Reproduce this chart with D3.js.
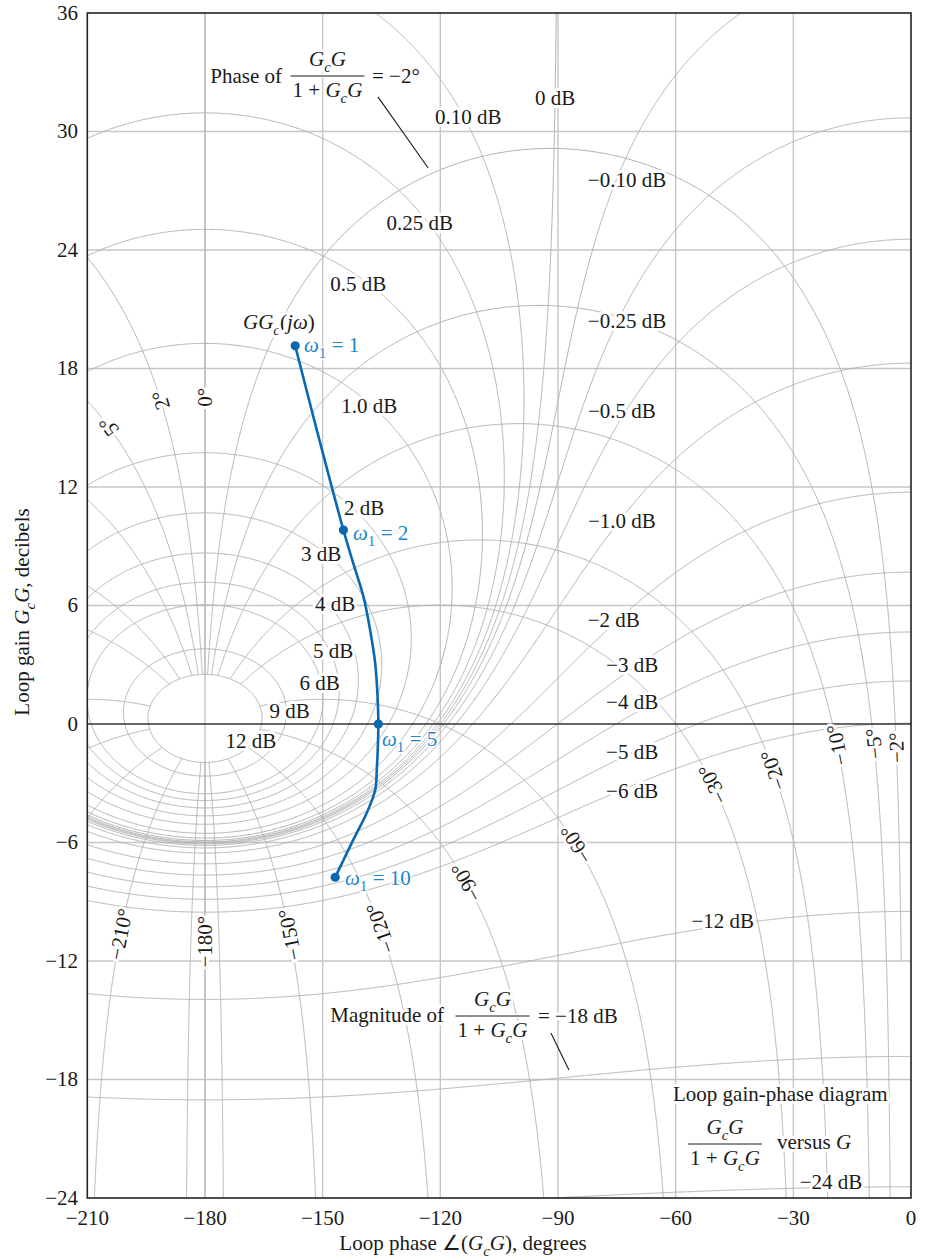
<!DOCTYPE html>
<html><head><meta charset="utf-8">
<script src="https://cdn.jsdelivr.net/npm/d3@7"></script>
<style>
body{margin:0;background:#fff;}
text{font-family:"Liberation Serif","Times New Roman",Times,serif;}
</style></head><body>
<svg id="chart" width="927" height="1260"></svg>
<script>
// ---------------- DATA ----------------
const xTicks = [-210, -180, -150, -120, -90, -60, -30, 0];
const yTicks = [36, 30, 24, 18, 12, 6, 0, -6, -12, -18, -24];

// closed-loop magnitude contours (dB)
const magContoursDb = [12, 9, 6, 5, 4, 3, 2, 1, 0.5, 0.25, 0.1, 0, -0.1, -0.25, -0.5, -1, -2, -3, -4, -5, -6, -12, -18, -24];
// closed-loop phase contours (deg); each also drawn mirrored about -180
const phaseContoursDeg = [-2, -5, -10, -20, -30, -60, -90, -120, -150, -175];

// labels of magnitude contours
const magLabelDb   = [0.1, 0, -0.1, 0.25, -0.25, 0.5, -0.5, 1, -1, 2, 3, -2, 4, -3, 5, -4, 6, 9, 12, -5, -6, -12, -24];
const magLabelText = ["0.10 dB","0 dB","\u22120.10 dB","0.25 dB","\u22120.25 dB","0.5 dB","\u22120.5 dB","1.0 dB","\u22121.0 dB","2 dB","3 dB","\u22122 dB","4 dB","\u22123 dB","5 dB","\u22124 dB","6 dB","9 dB","12 dB","\u22125 dB","\u22126 dB","\u221212 dB","\u221224 dB"];
const magLabelPhase = [-112.9, -90.75, -72.4, -125.25, -72.4, -140.9, -73.7, -138.1, -73.7, -139.4, -150.4, -75.8, -146.8, -71.1, -147.35, -71.1, -150.75, -158.4, -168.3, -71.1, -71.1, -48.0, -20.4];
const magLabelGain  = [30.75, 31.71, 27.54, 25.38, 20.41, 22.28, 15.85, 16.1, 10.29, 10.95, 8.61, 5.30, 6.08, 3.02, 3.70, 1.13, 2.11, 0.66, -0.86, -1.40, -3.37, -9.96, -23.17];

// labels of phase contours
const phaseLabelText    = ["\u22122\u00b0","\u22125\u00b0","\u221210\u00b0","\u221220\u00b0","\u221230\u00b0","\u221260\u00b0","\u221290\u00b0","\u2212120\u00b0","\u2212150\u00b0","\u2212180\u00b0","\u2212210\u00b0","0\u00b0","2\u00b0","5\u00b0"];
const phaseLabelContour = [-2, -5, -10, -20, -30, -60, -90, -120, -150, -180, -210, 0, -358, -355];
const phaseLabelPhase   = [-4.75, -11.7, -19.6, -36.5, -51.7, -85.3, -114.8, -134.5, -158.3, -180, -202.3, -180, -192.7, -202.9];
const phaseLabelGain    = [-1.2, -1.06, -1.1, -2.43, -3.17, -6.08, -8.15, -10.26, -10.68, -11.02, -10.6, 16.55, 16.32, 15.3];

// open-loop locus GGc(jw)
const locusPhase = [-157.0, -151.5, -147.7, -144.7, -142.2, -139.6, -137.9, -136.6, -136.0, -135.8, -136.2, -136.6, -138.8, -142.2, -144.7, -146.8];
const locusGain  = [19.15, 14.89, 12.02, 9.82, 8.14, 6.45, 4.76, 3.07, 1.38, 0.0, -2.33, -3.34, -4.52, -5.87, -6.89, -7.76];
const omegaValues = [1, 2, 5, 10];
const omegaPhase  = [-157.0, -144.7, -135.8, -146.8];
const omegaGain   = [19.15, 9.82, 0.0, -7.76];

// ---------------- SETUP ----------------
const svg = d3.select('#chart');
const x = d3.scaleLinear().domain([-210, 0]).range([87.3, 911]);
const y = d3.scaleLinear().domain([-24, 36]).range([1198, 13]);
const FS = 21;
const GRID = '#c6c6c6', CONT = '#b2b2b2', BLUE = '#0a67b2', BLUE_T = '#2086c9';
const D2R = Math.PI / 180;

svg.append('defs').append('clipPath').attr('id', 'clip').append('rect')
  .attr('x', x(-210)).attr('y', y(36)).attr('width', x(0) - x(-210)).attr('height', y(-24) - y(36));

// ---------------- CONTOUR MATH ----------------
function decimate(pts) {
  const out = [];
  let last = null;
  pts.forEach((p, i) => {
    const px = [x(p[0]), y(p[1])];
    if (!isFinite(px[0]) || !isFinite(px[1])) return;
    if (!last || Math.hypot(px[0] - last[0], px[1] - last[1]) > 0.7 || i === pts.length - 1) {
      out.push(px); last = px;
    }
  });
  return out;
}

function magContour(db) {
  const M = Math.pow(10, db / 20);
  const pts = [];
  if (Math.abs(M - 1) < 1e-9) {
    for (let ph = -269.95; ph <= -90.05; ph += 0.02) {
      const rho = -1 / (2 * Math.cos(ph * D2R));
      pts.push([ph, 20 * Math.log10(rho)]);
    }
    return pts;
  }
  const c = -M * M / (M * M - 1);
  const K = M * M / (M * M - 1);
  if (M < 1) {
    for (let ph = -215; ph <= 5; ph += 0.1) {
      const cp = Math.cos(ph * D2R);
      const rho = c * cp + Math.sqrt(c * c * cp * cp - K);
      pts.push([ph, 20 * Math.log10(rho)]);
    }
    return pts;
  }
  const Wd = Math.asin(1 / M) / D2R;
  const N = 1500;
  const branch = (sgn, t) => {
    const ph = -180 - Wd * Math.cos(t);
    const cp = Math.cos(ph * D2R);
    const D = Math.max(0, c * c * cp * cp - K);
    const rho = c * cp + sgn * Math.sqrt(D);
    return [ph, 20 * Math.log10(rho)];
  };
  for (let i = 0; i <= N; i++) pts.push(branch(1, Math.PI * i / N));
  for (let i = N; i >= 0; i--) pts.push(branch(-1, Math.PI * i / N));
  return pts;
}

const mMax = Math.pow(10, 12 / 20); // phase contours stop at the 12 dB ellipse
function phaseContour(Ndeg, minGain) {
  const pts = [];
  const uMax = Math.log(mMax);
  if (Ndeg === 0) {
    for (let u = 0.0005; u <= uMax; u += 0.0008) {
      const m = Math.exp(u);
      pts.push([-180, 20 * Math.log10(m / (m - 1))]);
    }
    return pts;
  }
  const cn = Math.cos(Ndeg * D2R), sn = Math.sin(Ndeg * D2R);
  for (let u = -7; u <= uMax + 1e-9; u += 0.0008) {
    const m = Math.exp(u);
    const re = 1 - m * cn, im = -m * sn;
    const ph = Ndeg - Math.atan2(im, re) / D2R;
    const g = 20 * Math.log10(m / Math.hypot(re, im));
    if (minGain !== undefined && g < minGain) continue;
    pts.push([ph, g]);
  }
  return pts;
}

// build all contours in pixel space
const contours = {};
magContoursDb.forEach(db => { contours['M' + db] = decimate(magContour(db)); });
phaseContoursDeg.forEach(N => {
  const raw = phaseContour(N, N === -2 ? -12 : undefined);
  contours['P' + N] = decimate(raw);
  contours['P' + (-360 - N)] = decimate(raw.map(p => [-360 - p[0], p[1]]));
});
contours['P-180'] = decimate(phaseContour(-180));
contours['P0'] = decimate(phaseContour(0));

// ---------------- GRID ----------------
const gGrid = svg.append('g').attr('clip-path', 'url(#clip)');
gGrid.selectAll('line.v').data(xTicks.filter(d => d > -210 && d < 0)).join('line')
  .attr('x1', d => x(d)).attr('x2', d => x(d)).attr('y1', y(36)).attr('y2', y(-24))
  .attr('stroke', GRID).attr('stroke-width', 1.4);
gGrid.selectAll('line.h').data(yTicks.filter(d => d < 36 && d > -24 && d !== 0)).join('line')
  .attr('x1', x(-210)).attr('x2', x(0)).attr('y1', d => y(d)).attr('y2', d => y(d))
  .attr('stroke', GRID).attr('stroke-width', 1.4);

const lineGen = d3.line().curve(d3.curveLinear);
gGrid.selectAll('path.c').data(Object.keys(contours)).join('path')
  .attr('d', k => lineGen(contours[k]))
  .attr('fill', 'none').attr('stroke', CONT).attr('stroke-width', 1.0);

// 0 dB axis line
gGrid.append('line').attr('x1', x(-210)).attr('x2', x(0)).attr('y1', y(0)).attr('y2', y(0))
  .attr('stroke', '#333').attr('stroke-width', 1.5);

// ---------------- TEXT HELPERS ----------------
function halo(sel) {
  return sel.attr('stroke', '#fff').attr('stroke-width', 6).attr('stroke-linejoin', 'round').attr('paint-order', 'stroke');
}
function richText(parent, xp, yp, parts, anchor, size, color) {
  const t = parent.append('text').attr('x', xp).attr('y', yp).attr('text-anchor', anchor)
    .attr('font-size', size).attr('fill', color || '#1a1a1a');
  let shift = 0;
  parts.forEach(([s, st]) => {
    const sp = t.append('tspan').text(s);
    if (st.includes('i')) sp.attr('font-style', 'italic');
    const sub = st.includes('s');
    const target = sub ? size * 0.3 : 0;
    if (target !== shift) { sp.attr('dy', target - shift); shift = target; }
    if (sub) sp.attr('font-size', size * 0.72);
  });
  return t;
}
function fraction(parent, cx, lineY, num, den, size) {
  const n = halo(richText(parent, cx, lineY - 10, num, 'middle', size));
  const d = halo(richText(parent, cx, lineY + 21, den, 'middle', size));
  const w = Math.max(n.node().getComputedTextLength(), d.node().getComputedTextLength());
  parent.append('rect').attr('x', cx - w / 2 - 4).attr('y', lineY - 2).attr('width', w + 8).attr('height', 4).attr('fill', '#fff');
  parent.append('line').attr('x1', cx - w / 2 - 2).attr('x2', cx + w / 2 + 2).attr('y1', lineY).attr('y2', lineY)
    .attr('stroke', '#1a1a1a').attr('stroke-width', 1.1);
}
function nearest(pts, px, py) {
  let best = 0, bd = Infinity;
  pts.forEach((p, i) => { const d = (p[0] - px) ** 2 + (p[1] - py) ** 2; if (d < bd) { bd = d; best = i; } });
  return { i: best, d: Math.sqrt(bd) };
}

// ---------------- CONTOUR LABELS ----------------
const gLab = svg.append('g');
magLabelText.forEach((txt, i) => {
  const px = x(magLabelPhase[i]), py = y(magLabelGain[i]);
  halo(gLab.append('text').attr('x', px).attr('y', py).attr('dy', '0.35em').attr('text-anchor', 'middle')
    .attr('font-size', FS).attr('fill', '#1a1a1a').text(txt));
});
phaseLabelText.forEach((txt, i) => {
  let px = x(phaseLabelPhase[i]), py = y(phaseLabelGain[i]);
  const pts = contours['P' + phaseLabelContour[i]];
  const nb = nearest(pts, px, py);
  const a = pts[Math.max(0, nb.i - 4)], b = pts[Math.min(pts.length - 1, nb.i + 4)];
  let ang = Math.atan2(b[1] - a[1], b[0] - a[0]) / D2R;
  if (Math.sin(ang * D2R) > 0) ang -= 180;           // tangent pointing upward
  if (ang > 0) ang -= 360;
  if (nb.d < 10) { px = pts[nb.i][0]; py = pts[nb.i][1]; }
  halo(gLab.append('text').attr('transform', `translate(${px},${py}) rotate(${ang})`)
    .attr('dy', '0.35em').attr('text-anchor', 'middle').attr('font-size', FS).attr('fill', '#1a1a1a').text(txt));
});

// ---------------- ANNOTATIONS ----------------
const gA = svg.append('g');
const GcG = [['G', 'i'], ['c', 'is'], ['G', 'i']];
const oneGcG = [['1 + ', ''], ['G', 'i'], ['c', 'is'], ['G', 'i']];
// Phase of ... = -2 deg
halo(richText(gA, 282, 83, [['Phase of', '']], 'end', FS));
fraction(gA, 327.5, 76, GcG, oneGcG, FS);
halo(richText(gA, 372, 83, [['= \u22122\u00b0', '']], 'start', FS));
gA.append('line').attr('x1', x(-135.9)).attr('y1', y(31.75)).attr('x2', x(-123.1)).attr('y2', y(28.15))
  .attr('stroke', '#1a1a1a').attr('stroke-width', 1.1);
// Magnitude of ... = -18 dB
halo(richText(gA, 444, 1022, [['Magnitude of', '']], 'end', FS));
fraction(gA, 492.5, 1016, GcG, oneGcG, FS);
halo(richText(gA, 538, 1023, [['= \u221218 dB', '']], 'start', FS));
gA.append('line').attr('x1', x(-91.8)).attr('y1', y(-15.65)).attr('x2', x(-87.2)).attr('y2', y(-17.52))
  .attr('stroke', '#1a1a1a').attr('stroke-width', 1.1);
// Loop gain-phase diagram
halo(richText(gA, 673, 1101, [['Loop gain-phase diagram', '']], 'start', FS));
fraction(gA, 725, 1144, GcG, oneGcG, FS);
halo(richText(gA, 777, 1149, [['versus ', ''], ['G', 'i']], 'start', FS));
// GGc(jw)
halo(richText(gA, 243, 329, [['GG', 'i'], ['c', 'is'], ['(', ''], ['j\u03c9', 'i'], [')', '']], 'start', FS));

// ---------------- LOCUS ----------------
const gL = svg.append('g');
const locus = locusPhase.map((p, i) => [x(p), y(locusGain[i])]);
gL.append('path').attr('d', d3.line().curve(d3.curveCatmullRom.alpha(0.5))(locus))
  .attr('fill', 'none').attr('stroke', BLUE).attr('stroke-width', 2.6);
gL.selectAll('circle').data(omegaValues).join('circle')
  .attr('cx', (d, i) => x(omegaPhase[i])).attr('cy', (d, i) => y(omegaGain[i])).attr('r', 4.6).attr('fill', BLUE);
const omegaLabelX = [304, 353, 382, 345];
const omegaLabelY = [352, 540, 746, 885];
omegaValues.forEach((w, i) => {
  halo(richText(gL, omegaLabelX[i], omegaLabelY[i], [['\u03c9', 'i'], ['1', 's'], [' = ' + w, '']], 'start', FS, BLUE_T))
    .attr('stroke-width', 3);
});

// ---------------- FRAME & AXES ----------------
svg.append('rect').attr('x', x(-210)).attr('y', y(36)).attr('width', x(0) - x(-210)).attr('height', y(-24) - y(36))
  .attr('fill', 'none').attr('stroke', '#222').attr('stroke-width', 1.6);
const fmt = v => (v < 0 ? '\u2212' + Math.abs(v) : '' + v);
svg.selectAll('text.yt').data(yTicks).join('text').attr('class', 'yt')
  .attr('x', 78).attr('y', d => y(d)).attr('dy', '0.33em').attr('text-anchor', 'end')
  .attr('font-size', FS).attr('fill', '#1a1a1a').text(fmt);
svg.selectAll('text.xt').data(xTicks).join('text').attr('class', 'xt')
  .attr('x', d => x(d)).attr('y', 1225).attr('text-anchor', 'middle')
  .attr('font-size', FS).attr('fill', '#1a1a1a').text(fmt);
richText(svg, 463, 1250, [['Loop phase \u2220(', ''], ['G', 'i'], ['c', 'is'], ['G', 'i'], ['), degrees', '']], 'middle', FS);
richText(svg, 0, 0, [['Loop gain ', ''], ['G', 'i'], ['c', 'is'], ['G', 'i'], [', decibels', '']], 'middle', FS)
  .attr('transform', 'translate(29,612) rotate(-90)');
</script>
</body></html>
